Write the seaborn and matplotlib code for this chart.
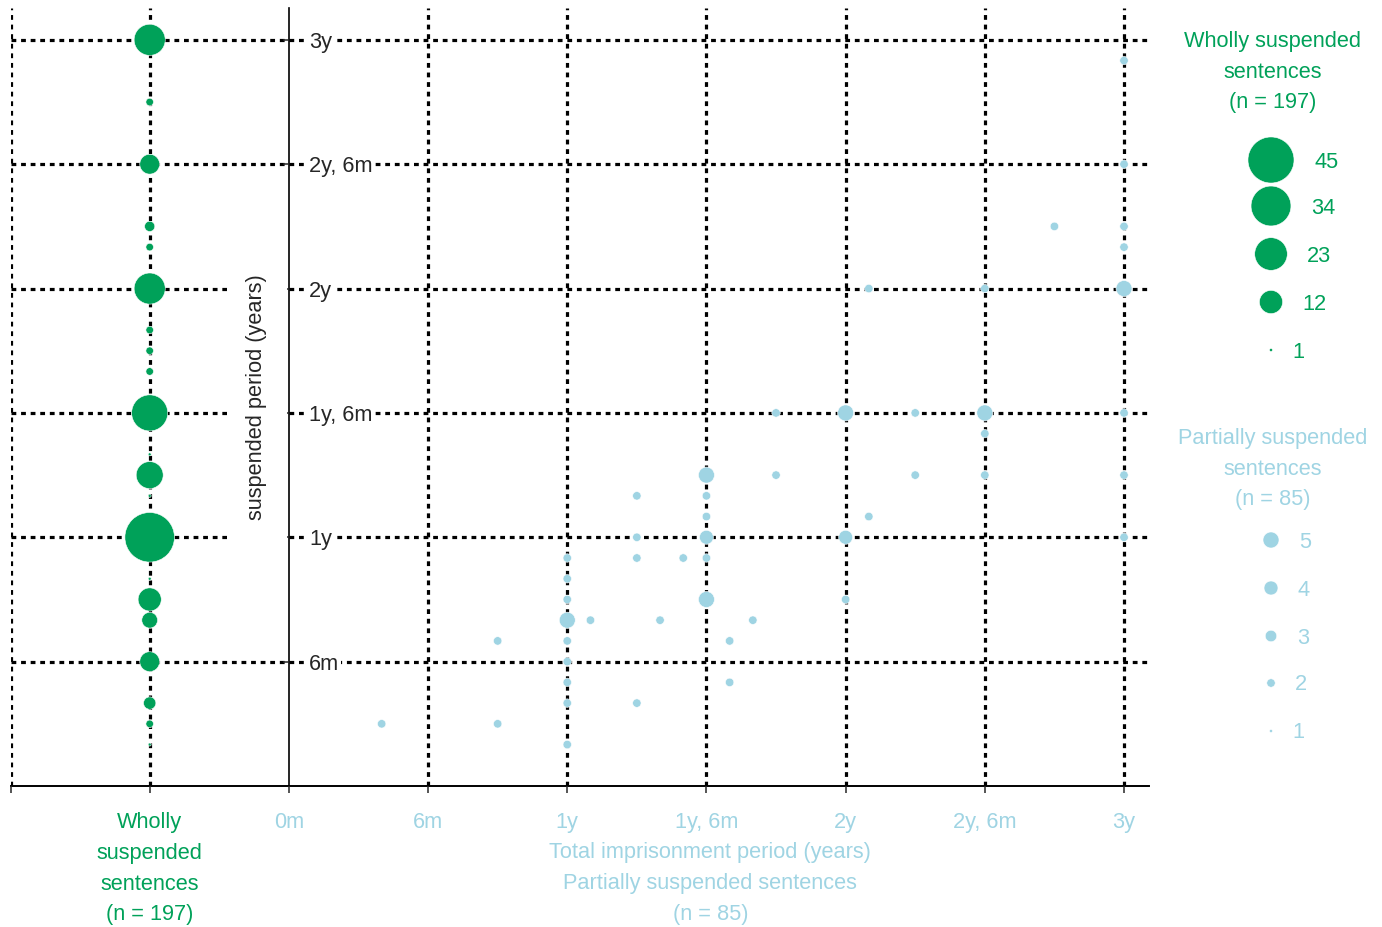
import numpy as np
import pandas as pd
import seaborn as sns
import matplotlib.pyplot as plt

GREEN = "#00A159"
BLUE = "#9FD4E3"

# wholly suspended sentences: suspended period (months) and number of cases
whole_months = [36, 33, 30, 27, 26, 24, 22, 21, 20, 18, 16, 15, 14, 12, 10, 9, 8, 6, 4, 3, 2]
whole_counts = [21, 2, 9, 3, 2, 21, 2, 2, 2, 28, 1, 16, 1, 52, 1, 12, 6, 9, 4, 2, 1]

# partially suspended sentences: total term (months), suspended part (months), cases
part_total = [4, 9, 9, 12, 12, 12, 12, 13, 16, 20,
              12, 12, 12, 12, 12, 15, 15, 15, 15, 17,
              18, 18, 18, 18, 18, 18, 19, 19, 21, 21,
              36, 36, 33, 36, 36, 36, 25, 30, 24, 27,
              30, 36, 30, 27, 30, 36, 25, 24, 36, 24]
part_susp = [3, 7, 3, 11, 10, 9, 8, 8, 8, 8,
             7, 6, 5, 4, 2, 4, 14, 12, 11, 11,
             15, 14, 13, 12, 11, 9, 7, 5, 18, 15,
             35, 30, 27, 27, 26, 24, 24, 24, 18, 18,
             18, 18, 17, 15, 15, 15, 13, 12, 12, 9]
part_counts = [2, 2, 2, 2, 2, 2, 5, 2, 2, 2,
               2, 2, 2, 2, 2, 2, 2, 2, 2, 2,
               5, 2, 2, 4, 2, 5, 2, 2, 2, 2,
               2, 2, 2, 2, 2, 5, 2, 2, 5, 2,
               5, 2, 2, 2, 2, 2, 2, 4, 2, 2]

x_ticks = [-1, -0.5, 0, 0.5, 1, 1.5, 2, 2.5, 3]
x_labels = ["", "Wholly\nsuspended\nsentences\n(n = 197)",
            "0m", "6m", "1y", "1y, 6m", "2y", "2y, 6m", "3y"]
y_ticks = [0.5, 1, 1.5, 2, 2.5, 3]
y_labels = ["6m", "1y", "1y, 6m", "2y", "2y, 6m", "3y"]

whole_legend = [45, 34, 23, 12, 1]
part_legend = [5, 4, 3, 2, 1]

PX = 72 / 100  # points per pixel


def whole_px(v):
    return 48 * (v - 1) + 9


def part_px(v):
    return 62 * (v - 1) + 9


def whole_area(v):
    return float(whole_px(v) * PX ** 2)


def part_area(v):
    return float(part_px(v) * PX ** 2)


sns.set_style("white")
plt.rcParams["font.family"] = ["Liberation Sans", "DejaVu Sans"]
plt.rcParams["font.size"] = 15.7

fig = plt.figure(figsize=(13.82, 9.27), dpi=100)
ax = fig.add_axes([10.5 / 1382, 1 - 786 / 927, 1138 / 1382, 778 / 927])

whole = pd.DataFrame({"x": -0.5, "y": np.array(whole_months) / 12, "n": whole_counts})
part = pd.DataFrame({"x": np.array(part_total) / 12, "y": np.array(part_susp) / 12,
                     "n": part_counts})

grid_kw = dict(color="black", lw=2.3, ls=(0, (1.5, 1.5)), zorder=1)
for v in x_ticks:
    if v != 0:
        ax.axvline(v, **grid_kw)
for v in y_ticks:
    ax.axhline(v, **grid_kw)

sns.scatterplot(data=whole, x="x", y="y", size="n",
                sizes={v: whole_area(v) for v in set(whole_counts)},
                color=GREEN, edgecolor="white", linewidth=0.4,
                legend=False, ax=ax, zorder=3)
sns.scatterplot(data=part, x="x", y="y", size="n",
                sizes={v: part_area(v) for v in set(part_counts)},
                color=BLUE, edgecolor="white", linewidth=0.4,
                legend=False, ax=ax, zorder=3)

ax.set_xlim(-1, 3.088)
ax.set_ylim(0, 3.128)
ax.set_axisbelow(False)
for s in ["top", "right"]:
    ax.spines[s].set_visible(False)
ax.spines["left"].set_position(("data", 0))
ax.spines["left"].set_linewidth(1.2)
ax.spines["bottom"].set_linewidth(1.4)
ax.spines["left"].set_color("black")
ax.spines["bottom"].set_color("black")

ax.set_xticks(x_ticks, x_labels)
ax.tick_params(axis="x", direction="out", length=5, width=1.1, pad=14, bottom=True)
for lab in ax.get_xticklabels():
    lab.set_color(BLUE)
    lab.set_linespacing(1.6)
ax.get_xticklabels()[1].set_color(GREEN)

ax.set_yticks(y_ticks, y_labels)
ax.tick_params(axis="y", direction="out", length=4.3, width=1.1, pad=-18.7, left=True)
for lab in ax.get_yticklabels():
    lab.set_ha("left")
    lab.set_bbox(dict(facecolor="white", edgecolor="none", boxstyle="square,pad=0.1"))

ax.set_xlabel("Total imprisonment period (years)\nPartially suspended sentences\n(n = 85)",
              color=BLUE, linespacing=1.6, va="top")
ax.xaxis.set_label_coords(0.615, -0.0726)
ax.set_ylabel("")

ax.text(-0.115, 1.562, "suspended period (years)", rotation=90, ha="center", va="center",
        bbox=dict(facecolor="white", edgecolor="none", boxstyle="square,pad=0.9"),
        zorder=2.6)

# legends drawn in pixel coordinates on an overlay
lax = fig.add_axes([0, 0, 1, 1])
lax.axis("off")

lax.text(1273, 31, "Wholly suspended\nsentences\n(n = 197)", ha="center", va="top",
         color=GREEN, linespacing=1.6)
lax.text(1273, 428, "Partially suspended\nsentences\n(n = 85)", ha="center", va="top",
         color=BLUE, linespacing=1.6)

whole_key_y = [160, 206, 254, 302, 350]
part_key_y = [540, 588, 636, 683, 731]
key_x = 1271

sns.scatterplot(x=[key_x] * len(whole_legend), y=whole_key_y, size=whole_legend,
                sizes={v: whole_area(v) for v in whole_legend},
                color=GREEN, edgecolor="white", linewidth=0.4, legend=False, ax=lax)
sns.scatterplot(x=[key_x] * len(part_legend), y=part_key_y, size=part_legend,
                sizes={v: part_area(v) for v in part_legend},
                color=BLUE, edgecolor="white", linewidth=0.4, legend=False, ax=lax)
lax.set_xlim(0, 1382)
lax.set_ylim(927, 0)

for v, y in zip(whole_legend, whole_key_y):
    r = np.sqrt(whole_px(v)) / 2
    lax.text(key_x + r + 20, y + 2, str(v), ha="left", va="center", color=GREEN)
for v, y in zip(part_legend, part_key_y):
    r = np.sqrt(part_px(v)) / 2
    lax.text(key_x + r + 20, y + 2, str(v), ha="left", va="center", color=BLUE)

fig.savefig("out.png", dpi=100)
